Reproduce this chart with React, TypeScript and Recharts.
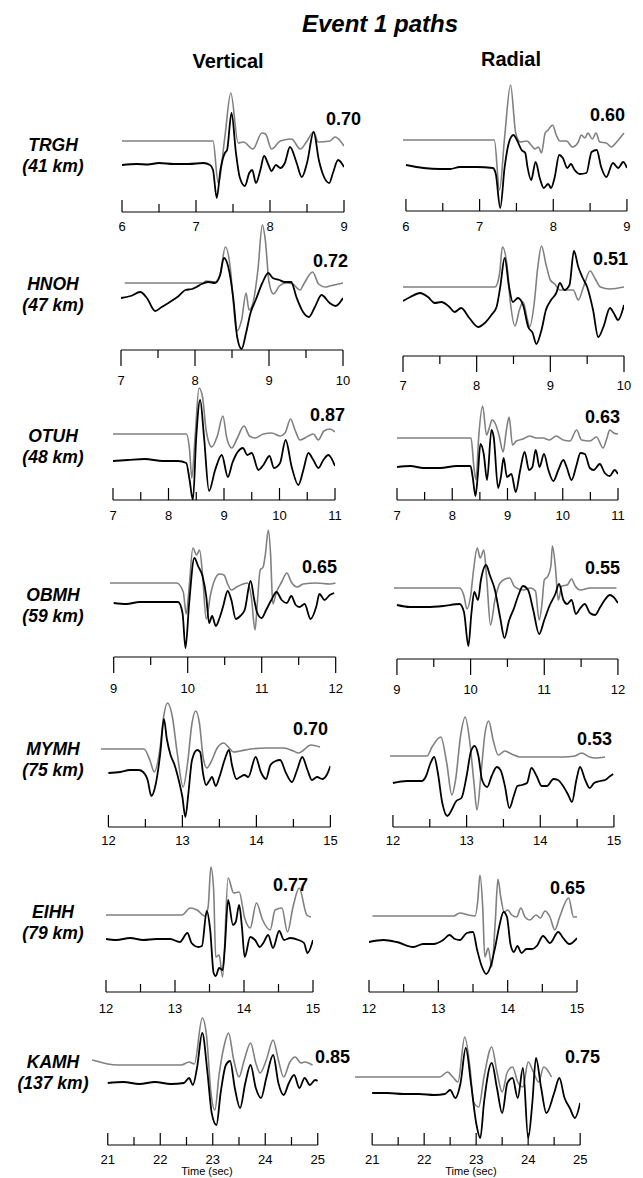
import React from 'react';
import { LineChart, Line, XAxis, YAxis, ReferenceLine } from 'recharts';

type Pt = [number, number];

// ---------- labels ----------
const TITLE = 'Event 1 paths';
const COMPONENTS = ['Vertical', 'Radial'];
const STATIONS = ['TRGH', 'HNOH', 'OTUH', 'OBMH', 'MYMH', 'EIHH', 'KAMH'];
const DISTANCES = ['(41 km)', '(47 km)', '(48 km)', '(59 km)', '(75 km)', '(79 km)', '(137 km)'];
const CC_VERTICAL = ['0.70', '0.72', '0.87', '0.65', '0.70', '0.77', '0.85'];
const CC_RADIAL = ['0.60', '0.51', '0.63', '0.55', '0.53', '0.65', '0.75'];
const X_LABEL = 'Time (sec)';

// ---------- time axes ----------
const TIME_RANGES: [number, number][] = [[6, 9], [7, 10], [7, 11], [9, 12], [12, 15], [12, 15], [21, 25]];
const TICKS: number[][] = [
  [6, 6.5, 7, 7.5, 8, 8.5, 9],
  [7, 7.5, 8, 8.5, 9, 9.5, 10],
  [7, 7.5, 8, 8.5, 9, 9.5, 10, 10.5, 11],
  [9, 9.5, 10, 10.5, 11, 11.5, 12],
  [12, 12.5, 13, 13.5, 14, 14.5, 15],
  [12, 12.5, 13, 13.5, 14, 14.5, 15],
  [21, 21.5, 22, 22.5, 23, 23.5, 24, 24.5, 25],
];

// ---------- waveforms: [time (s), amplitude] ; SYN = gray, OBS = black ----------
const TRGH_V_SYN: Pt[] = [[6,0],[7.23,0],[7.3,-42],[7.39,4],[7.47,48],[7.57,-2],[7.64,-1],[7.77,-8],[7.89,8],[7.94,7],[8.02,-8],[8.14,0],[8.29,2],[8.41,-8],[8.5,0],[8.59,9],[8.65,-1],[8.81,0],[8.88,4],[9.0,-5]];
const TRGH_V_OBS: Pt[] = [[6,0],[6.2,1],[6.35,0.5],[6.5,2],[6.7,1],[6.9,1],[7.1,2],[7.19,0],[7.23,-5],[7.28,-33],[7.33,-5],[7.39,12],[7.42,15],[7.48,52],[7.54,12],[7.59,-12],[7.66,-21],[7.72,-8],[7.76,-5],[7.81,-18],[7.87,-5],[7.92,9],[7.98,0],[8.02,-6],[8.08,0],[8.14,-3],[8.2,2],[8.27,18],[8.36,2],[8.43,-12],[8.5,2],[8.59,33],[8.66,5],[8.73,-12],[8.8,-18],[8.85,-8],[8.92,5],[9.0,-2]];
const TRGH_R_SYN: Pt[] = [[5.96,0],[7.2,0],[7.27,-50],[7.34,3],[7.42,55],[7.49,7],[7.55,-2],[7.64,-1],[7.71,-6],[7.75,-9],[7.8,-7],[7.84,-13],[7.89,7],[7.93,10],[7.99,15],[8.04,5],[8.09,-1],[8.18,-1],[8.26,-7],[8.34,-2],[8.38,5],[8.43,2],[8.47,7],[8.53,1],[8.58,7],[8.63,-2],[8.72,-3],[8.79,-7],[8.86,-2],[8.96,7]];
const TRGH_R_OBS: Pt[] = [[6,1],[6.24,-2],[6.46,-3],[6.6,-3],[6.73,-1],[6.96,-1],[7.18,-2],[7.22,-8],[7.28,-42],[7.34,-1],[7.4,24],[7.46,31],[7.5,27],[7.57,16],[7.62,13],[7.65,-1],[7.7,-14],[7.76,4],[7.82,-13],[7.87,-22],[7.93,-18],[7.97,-22],[8.02,-11],[8.08,11],[8.13,8],[8.19,-2],[8.24,2],[8.29,-4],[8.36,-8],[8.45,-7],[8.52,14],[8.59,16],[8.65,-1],[8.72,-11],[8.81,3],[8.88,-2],[8.95,4],[9.0,-2]];

const HNOH_V_SYN: Pt[] = [[7.05,0],[8.11,0],[8.15,2],[8.27,1],[8.34,9],[8.41,36],[8.48,13],[8.52,-21],[8.56,-48],[8.63,-37],[8.69,-10],[8.73,-27],[8.78,-21],[8.85,13],[8.91,58],[8.95,43],[9.0,1],[9.06,-11],[9.14,-3],[9.23,0],[9.32,-1],[9.42,-7],[9.47,-1],[9.59,11],[9.67,-1],[9.76,-4],[9.82,-3],[10.0,0]];
const HNOH_V_OBS: Pt[] = [[7.0,2],[7.13,4],[7.26,8],[7.35,2],[7.46,-11],[7.55,-7],[7.66,-2],[7.78,4],[7.87,10],[7.96,11],[8.02,13],[8.09,16],[8.18,18],[8.27,17],[8.34,25],[8.39,42],[8.45,33],[8.52,0],[8.57,-37],[8.63,-49],[8.69,-33],[8.75,-13],[8.82,0],[8.91,17],[8.99,27],[9.05,22],[9.14,20],[9.21,18],[9.3,18],[9.37,3],[9.46,-12],[9.54,-17],[9.62,-7],[9.71,5],[9.82,-3],[9.9,-6],[10.0,2]];
const HNOH_R_SYN: Pt[] = [[7.0,0],[8.25,0],[8.31,13],[8.35,40],[8.41,23],[8.46,-17],[8.52,-39],[8.58,-23],[8.63,-15],[8.69,-33],[8.72,-40],[8.78,-17],[8.83,20],[8.88,41],[8.94,23],[9.0,7],[9.06,3],[9.13,-3],[9.22,-3],[9.31,-3],[9.38,-13],[9.45,0],[9.54,16],[9.61,8],[9.68,0],[9.81,-2],[10.0,0]];
const HNOH_R_OBS: Pt[] = [[7.0,-1],[7.1,3],[7.23,7],[7.34,3],[7.43,-3],[7.52,-2],[7.63,-7],[7.7,-12],[7.79,-8],[7.9,-18],[8.02,-27],[8.11,-23],[8.2,-15],[8.27,-7],[8.32,13],[8.38,42],[8.44,13],[8.49,-2],[8.56,2],[8.63,-5],[8.7,-27],[8.76,-33],[8.81,-44],[8.88,-30],[8.94,-10],[9.01,0],[9.08,7],[9.13,17],[9.19,10],[9.26,15],[9.32,49],[9.38,33],[9.44,22],[9.5,13],[9.58,-10],[9.65,-37],[9.72,-27],[9.81,-8],[9.86,-13],[9.92,-20],[10.0,-5]];

const OTUH_V_SYN: Pt[] = [[7.0,0],[8.32,0],[8.38,-16],[8.42,-44],[8.48,-2],[8.55,46],[8.61,38],[8.68,3],[8.78,-13],[8.88,-2],[8.98,18],[9.05,-4],[9.14,-14],[9.24,-4],[9.36,8],[9.46,-2],[9.56,-4],[9.71,0],[9.86,1],[10.01,-2],[10.1,1],[10.2,15],[10.28,4],[10.37,-6],[10.52,-2],[10.61,0],[10.7,-6],[10.8,3],[10.91,5],[11.0,2]];
const OTUH_V_OBS: Pt[] = [[7.0,0],[7.27,1],[7.57,2],[7.9,0],[8.17,0],[8.32,-2],[8.38,-19],[8.44,-39],[8.5,24],[8.57,61],[8.64,24],[8.73,-30],[8.84,-9],[8.96,6],[9.07,-16],[9.15,-2],[9.34,13],[9.42,6],[9.5,8],[9.62,-9],[9.71,-4],[9.82,5],[9.9,-7],[10.01,-2],[10.11,21],[10.22,-6],[10.34,-24],[10.43,-9],[10.52,8],[10.61,1],[10.7,-7],[10.79,1],[10.88,6],[11.0,-5]];
const OTUH_R_SYN: Pt[] = [[7.0,0],[8.34,0],[8.39,-28],[8.43,-42],[8.48,2],[8.55,32],[8.62,3],[8.67,10],[8.72,18],[8.79,13],[8.85,2],[8.92,-14],[8.98,8],[9.03,21],[9.09,-7],[9.16,-3],[9.28,-1],[9.4,2],[9.52,0],[9.64,0],[9.76,-2],[9.88,2],[10.01,-2],[10.13,-3],[10.25,8],[10.34,-2],[10.49,-3],[10.61,1],[10.73,-10],[10.8,0],[10.85,8],[10.92,5],[11.0,4]];
const OTUH_R_OBS: Pt[] = [[7.0,0],[7.24,1],[7.48,-1],[7.78,-1],[8.08,1],[8.33,1],[8.37,-10],[8.42,-29],[8.46,-10],[8.51,23],[8.57,13],[8.63,-13],[8.71,37],[8.75,30],[8.83,-21],[8.88,-10],[8.93,9],[8.99,-10],[9.07,-7],[9.15,-25],[9.23,-3],[9.31,15],[9.39,-3],[9.45,0],[9.51,17],[9.58,0],[9.66,13],[9.74,-3],[9.83,-14],[9.92,-3],[10.01,7],[10.07,0],[10.16,-13],[10.25,2],[10.32,14],[10.4,13],[10.49,-1],[10.56,-3],[10.67,3],[10.76,-6],[10.85,-9],[10.94,-3],[11.0,-7]];

const OBMH_V_SYN: Pt[] = [[8.95,0],[9.85,0],[9.94,-9],[9.98,-31],[10.02,-4],[10.07,35],[10.12,28],[10.16,33],[10.2,9],[10.25,-36],[10.31,-11],[10.37,4],[10.43,9],[10.49,8],[10.54,-1],[10.59,-7],[10.66,-4],[10.75,-1],[10.81,0],[10.86,-14],[10.91,-47],[10.94,-21],[10.98,13],[11.02,16],[11.05,29],[11.09,53],[11.12,29],[11.15,-21],[11.2,-9],[11.27,1],[11.34,10],[11.4,1],[11.48,-4],[11.56,-1],[11.74,0],[11.92,-1],[12.0,0]];
const OBMH_V_OBS: Pt[] = [[9.0,0],[9.17,-1],[9.35,1],[9.53,1],[9.71,1],[9.87,1],[9.93,-10],[9.97,-45],[10.02,0],[10.09,45],[10.14,37],[10.2,27],[10.25,7],[10.29,-20],[10.33,-13],[10.38,-23],[10.43,-15],[10.48,-3],[10.54,12],[10.59,3],[10.65,-16],[10.71,-13],[10.77,-7],[10.85,22],[10.9,3],[10.94,-10],[11.0,-15],[11.06,-7],[11.13,3],[11.2,11],[11.27,3],[11.34,0],[11.4,7],[11.46,-2],[11.51,-4],[11.58,-1],[11.66,-16],[11.74,-3],[11.78,9],[11.85,3],[11.92,8],[11.98,10]];
const OBMH_R_SYN: Pt[] = [[8.96,0],[9.85,0],[9.91,-8],[9.95,-21],[10.0,-8],[10.04,18],[10.09,40],[10.13,30],[10.18,38],[10.22,8],[10.27,-37],[10.33,-12],[10.4,5],[10.47,9],[10.53,10],[10.59,2],[10.65,-1],[10.72,-2],[10.81,0],[10.88,-3],[10.93,-32],[10.97,-15],[11.0,8],[11.05,12],[11.09,22],[11.11,42],[11.15,22],[11.19,-12],[11.24,2],[11.31,3],[11.37,9],[11.42,2],[11.49,-2],[11.62,0],[11.8,0],[11.98,0]];
const OBMH_R_OBS: Pt[] = [[9.0,1],[9.18,-1],[9.41,-1],[9.63,0],[9.85,2],[9.91,-6],[9.97,-40],[10.01,-8],[10.05,14],[10.1,6],[10.14,26],[10.21,41],[10.26,31],[10.33,16],[10.4,-11],[10.46,-32],[10.52,-15],[10.59,-2],[10.65,11],[10.71,20],[10.78,16],[10.85,-4],[10.93,-28],[11.0,-14],[11.07,0],[11.15,12],[11.2,22],[11.26,6],[11.31,2],[11.37,6],[11.43,-8],[11.49,-2],[11.55,2],[11.62,-7],[11.69,-9],[11.76,-1],[11.82,6],[11.89,11],[11.94,9],[12.0,3]];

const MYMH_V_SYN: Pt[] = [[11.9,0],[12.48,0],[12.56,-11],[12.62,-23],[12.7,2],[12.75,34],[12.8,46],[12.86,34],[12.93,-4],[13.01,-38],[13.07,-14],[13.13,26],[13.18,38],[13.23,26],[13.28,-8],[13.33,-19],[13.4,-11],[13.47,1],[13.56,6],[13.62,2],[13.69,-3],[13.78,-2],[13.92,0],[14.14,1],[14.37,1],[14.5,-2],[14.57,-4],[14.64,-1],[14.73,4],[14.86,2]];
const MYMH_V_OBS: Pt[] = [[12.0,0],[12.16,1],[12.29,3],[12.41,3],[12.47,1],[12.53,-7],[12.58,-23],[12.64,-11],[12.7,19],[12.75,54],[12.79,34],[12.84,18],[12.89,9],[12.95,-7],[13.0,-24],[13.04,-44],[13.08,-21],[13.13,13],[13.2,23],[13.24,21],[13.28,-1],[13.32,-12],[13.37,-7],[13.4,-4],[13.45,-13],[13.5,-4],[13.57,13],[13.63,23],[13.67,8],[13.73,-6],[13.78,-4],[13.84,-2],[13.89,-4],[13.99,16],[14.06,1],[14.13,-6],[14.19,8],[14.26,12],[14.32,13],[14.4,0],[14.48,-9],[14.55,3],[14.62,16],[14.69,3],[14.75,-7],[14.82,-4],[14.89,-6],[14.95,-2],[15.0,7]];
const MYMH_R_SYN: Pt[] = [[11.96,0],[12.46,0],[12.53,9],[12.65,19],[12.73,-7],[12.8,-39],[12.85,-24],[12.92,21],[12.98,39],[13.04,16],[13.1,-27],[13.14,-54],[13.2,-14],[13.25,23],[13.3,35],[13.36,16],[13.43,1],[13.52,5],[13.61,2],[13.72,-1],[13.99,-1],[14.31,-1],[14.47,0],[14.56,3],[14.67,-1],[14.74,-2],[14.88,-1]];
const MYMH_R_OBS: Pt[] = [[12.0,0],[12.19,2],[12.39,2],[12.45,7],[12.51,20],[12.56,26],[12.61,10],[12.67,-20],[12.74,-33],[12.79,-28],[12.86,-18],[12.93,-15],[13.0,7],[13.06,32],[13.11,37],[13.16,27],[13.21,3],[13.28,-4],[13.34,7],[13.41,16],[13.46,13],[13.52,-3],[13.58,-25],[13.64,-13],[13.69,-3],[13.75,-2],[13.82,0],[13.88,15],[13.95,7],[14.02,-3],[14.09,-3],[14.18,4],[14.24,3],[14.31,-3],[14.38,-12],[14.43,-19],[14.49,3],[14.54,16],[14.61,3],[14.67,-5],[14.73,0],[14.81,2],[14.88,3],[14.95,7],[14.99,9]];

const EIHH_V_SYN: Pt[] = [[12.0,0],[13.1,0],[13.22,7],[13.32,5],[13.43,-1],[13.48,8],[13.52,48],[13.56,25],[13.59,-42],[13.64,-40],[13.69,-62],[13.77,37],[13.85,22],[13.93,23],[14.01,-3],[14.09,-13],[14.18,12],[14.27,-5],[14.38,-15],[14.45,5],[14.55,7],[14.63,-17],[14.71,8],[14.8,27],[14.91,0],[14.97,-2]];
const EIHH_V_OBS: Pt[] = [[12.0,0],[12.15,-1],[12.35,1],[12.54,-1],[12.73,0],[12.93,0],[13.07,-3],[13.18,6],[13.24,-4],[13.34,-8],[13.39,-7],[13.46,28],[13.51,9],[13.56,-34],[13.59,-37],[13.64,-29],[13.69,-31],[13.72,-11],[13.77,39],[13.84,14],[13.88,17],[13.93,34],[13.97,12],[14.01,-18],[14.09,2],[14.16,-1],[14.23,-8],[14.28,-4],[14.35,4],[14.42,-9],[14.51,8],[14.58,-1],[14.67,1],[14.79,-1],[14.87,-4],[14.92,-14],[15.0,-1]];
const EIHH_R_SYN: Pt[] = [[12.05,0],[13.22,0],[13.31,3],[13.43,1],[13.53,0],[13.57,16],[13.6,41],[13.64,9],[13.67,-41],[13.72,-32],[13.77,-51],[13.82,-7],[13.86,37],[13.9,19],[13.95,4],[14.0,6],[14.06,1],[14.13,-1],[14.19,8],[14.25,-1],[14.32,-4],[14.41,1],[14.47,-2],[14.54,5],[14.61,-1],[14.68,-14],[14.75,-1],[14.88,18],[14.95,-1],[15.0,-1]];
const EIHH_R_OBS: Pt[] = [[12.0,-1],[12.21,1],[12.4,-1],[12.64,-6],[12.78,-3],[12.93,-3],[13.07,1],[13.16,6],[13.24,2],[13.31,1],[13.41,8],[13.5,9],[13.56,-9],[13.63,-26],[13.69,-33],[13.75,-26],[13.82,-6],[13.88,15],[13.94,29],[13.99,24],[14.04,-3],[14.09,-11],[14.14,-5],[14.2,-12],[14.27,-8],[14.35,-8],[14.42,-5],[14.51,5],[14.61,-2],[14.73,9],[14.8,3],[14.89,-3],[15.0,3]];

const KAMH_V_SYN: Pt[] = [[20.7,5],[20.85,3],[21.0,1],[21.2,0],[22.4,0],[22.55,3],[22.65,1],[22.8,47],[22.88,30],[22.97,-30],[23.04,-45],[23.12,-10],[23.22,20],[23.3,32],[23.4,5],[23.5,-12],[23.6,5],[23.72,22],[23.82,2],[23.9,-8],[24.02,5],[24.15,25],[24.25,5],[24.35,-12],[24.47,3],[24.57,8],[24.68,2],[24.75,3],[24.9,0]];
const KAMH_V_OBS: Pt[] = [[21.0,0],[21.3,1],[21.6,-1],[21.9,1],[22.2,-1],[22.45,0],[22.55,5],[22.62,-2],[22.7,15],[22.8,50],[22.9,10],[22.98,-30],[23.07,-42],[23.15,-10],[23.25,18],[23.33,22],[23.42,-5],[23.52,-25],[23.62,0],[23.72,18],[23.82,-5],[23.92,-15],[24.02,5],[24.15,28],[24.25,0],[24.35,-12],[24.45,0],[24.55,8],[24.65,-5],[24.75,5],[24.85,-2],[24.95,3],[25.0,2]];
const KAMH_R_SYN: Pt[] = [[20.67,0],[22.3,0],[22.45,5],[22.55,0],[22.65,-5],[22.78,40],[22.88,10],[22.95,-25],[23.05,-30],[23.15,0],[23.3,30],[23.4,5],[23.5,-15],[23.6,5],[23.7,10],[23.8,-5],[23.9,-10],[24.0,15],[24.1,5],[24.2,-5],[24.3,10],[24.45,0]];
const KAMH_R_OBS: Pt[] = [[21.0,0],[21.3,0],[21.6,-1],[21.9,-1],[22.2,-2],[22.4,-1],[22.5,3],[22.6,-5],[22.7,10],[22.8,45],[22.9,10],[23.0,-30],[23.08,-45],[23.15,-10],[23.3,30],[23.4,5],[23.5,-20],[23.6,10],[23.7,15],[23.8,-5],[23.9,25],[24.0,-45],[24.08,-10],[24.15,35],[24.25,5],[24.35,-20],[24.5,0],[24.6,15],[24.7,-5],[24.8,-15],[24.9,-25],[25.0,-10]];

const SYN_V = [TRGH_V_SYN, HNOH_V_SYN, OTUH_V_SYN, OBMH_V_SYN, MYMH_V_SYN, EIHH_V_SYN, KAMH_V_SYN];
const OBS_V = [TRGH_V_OBS, HNOH_V_OBS, OTUH_V_OBS, OBMH_V_OBS, MYMH_V_OBS, EIHH_V_OBS, KAMH_V_OBS];
const SYN_R = [TRGH_R_SYN, HNOH_R_SYN, OTUH_R_SYN, OBMH_R_SYN, MYMH_R_SYN, EIHH_R_SYN, KAMH_R_SYN];
const OBS_R = [TRGH_R_OBS, HNOH_R_OBS, OTUH_R_OBS, OBMH_R_OBS, MYMH_R_OBS, EIHH_R_OBS, KAMH_R_OBS];

// ---------- layout (page pixels) ----------
type Layout = { xL: number; xR: number; axisY: number; dir: 'up' | 'down'; labelDy: number; grayBase: number; blackBase: number; ccX: number; ccY: number; lead: number };
const LAYOUT_V: Layout[] = [
  { xL: 122, xR: 344, axisY: 212, dir: 'up', labelDy: 19, grayBase: 141, blackBase: 165, ccX: 326, ccY: 125, lead: 0 },
  { xL: 121, xR: 343, axisY: 350, dir: 'down', labelDy: 35, grayBase: 283, blackBase: 300, ccX: 313, ccY: 267, lead: 0 },
  { xL: 113, xR: 335, axisY: 500, dir: 'up', labelDy: 20, grayBase: 434, blackBase: 461, ccX: 310, ccY: 421, lead: 0 },
  { xL: 114, xR: 336, axisY: 657, dir: 'down', labelDy: 36, grayBase: 583, blackBase: 603, ccX: 302, ccY: 573, lead: 0.05 },
  { xL: 108, xR: 330, axisY: 827, dir: 'up', labelDy: 18, grayBase: 749, blackBase: 773, ccX: 293, ccY: 735, lead: 0.1 },
  { xL: 106, xR: 313, axisY: 992, dir: 'up', labelDy: 21, grayBase: 915, blackBase: 939, ccX: 273, ccY: 891, lead: 0 },
  { xL: 108, xR: 318, axisY: 1145, dir: 'up', labelDy: 19, grayBase: 1065, blackBase: 1083, ccX: 315, ccY: 1063, lead: 0.3 },
];
const LAYOUT_R: Layout[] = [
  { xL: 406, xR: 627, axisY: 211, dir: 'up', labelDy: 20, grayBase: 140, blackBase: 166, ccX: 590, ccY: 121, lead: 0.04 },
  { xL: 403, xR: 624, axisY: 356, dir: 'down', labelDy: 34, grayBase: 287, blackBase: 300, ccX: 593, ccY: 265, lead: 0 },
  { xL: 397, xR: 618, axisY: 500, dir: 'up', labelDy: 20, grayBase: 438, blackBase: 467, ccX: 585, ccY: 423, lead: 0 },
  { xL: 397, xR: 618, axisY: 659, dir: 'down', labelDy: 35, grayBase: 588, blackBase: 606, ccX: 585, ccY: 574, lead: 0.04 },
  { xL: 393, xR: 614, axisY: 827, dir: 'up', labelDy: 18, grayBase: 756, blackBase: 783, ccX: 577, ccY: 745, lead: 0.04 },
  { xL: 369, xR: 577, axisY: 992, dir: 'up', labelDy: 21, grayBase: 916, blackBase: 941, ccX: 550, ccY: 894, lead: 0 },
  { xL: 372, xR: 580, axisY: 1145, dir: 'up', labelDy: 19, grayBase: 1077, blackBase: 1093, ccX: 565, ccY: 1063, lead: 0.33 },
];
const STATION_Y = [151, 290, 442, 601, 755, 918, 1068];

const FONT = '"Liberation Sans", Arial, Helvetica, sans-serif';
const GRAY = '#808080';
const PLOT_H = 150;
const AXIS_H = 50;
const M_L = 16;
const M_R = 16;

function AxisTick(props: any) {
  const { x, y, payload, dir, labelDy } = props;
  const v = payload.value as number;
  const major = Math.abs(v - Math.round(v)) < 1e-6;
  const len = major ? (dir === 'up' ? 12 : 16) : 8;
  const y2 = dir === 'up' ? y - len : y + len;
  return (
    <g>
      <line x1={x} x2={x} y1={y} y2={y2} stroke="#000" strokeWidth={1.2} />
      {major && (
        <text x={x} y={y + labelDy} textAnchor="middle" fontSize={13} fontFamily={FONT} fill="#000">
          {v}
        </text>
      )}
    </g>
  );
}

function Panel({ lay, syn, obs, range, ticks }: { lay: Layout; syn: Pt[]; obs: Pt[]; range: [number, number]; ticks: number[] }) {
  const pxPerSec = (lay.xR - lay.xL) / (range[1] - range[0]);
  const leadPx = lay.lead * pxPerSec;
  const width = lay.xR - lay.xL + leadPx + M_L + M_R;
  const synData = syn.map(([t, a]) => ({ t, v: a + (lay.axisY - lay.grayBase) }));
  const obsData = obs.map(([t, a]) => ({ t, v: a + (lay.axisY - lay.blackBase) }));
  return (
    <div style={{ position: 'absolute', left: lay.xL - leadPx - M_L, top: lay.axisY - PLOT_H }}>
      <LineChart width={width} height={PLOT_H + AXIS_H} margin={{ top: 0, right: M_R, left: M_L, bottom: 0 }}>
        <XAxis
          type="number"
          dataKey="t"
          domain={[range[0] - lay.lead, range[1]]}
          ticks={ticks}
          interval={0}
          allowDataOverflow
          height={AXIS_H}
          tickSize={0}
          tickMargin={0}
          tickLine={false}
          axisLine={false}
          tick={(p: any) => <AxisTick {...p} dir={lay.dir} labelDy={lay.labelDy} />}
        />
        <YAxis hide type="number" domain={[0, PLOT_H]} allowDataOverflow />
        <ReferenceLine segment={[{ x: range[0], y: 0 }, { x: range[1], y: 0 }]} stroke="#000" strokeWidth={1.2} ifOverflow="visible" />
        <Line data={synData} dataKey="v" type="monotone" stroke={GRAY} strokeWidth={1.6} dot={false} isAnimationActive={false} />
        <Line data={obsData} dataKey="v" type="monotone" stroke="#000" strokeWidth={1.8} dot={false} isAnimationActive={false} />
      </LineChart>
    </div>
  );
}

export default function App() {
  return (
    <div style={{ position: 'absolute', left: 0, top: 0, width: 643, height: 1178, background: '#fff', overflow: 'hidden' }}>
      {STATIONS.map((s, i) => (
        <React.Fragment key={s}>
          <Panel lay={LAYOUT_V[i]} syn={SYN_V[i]} obs={OBS_V[i]} range={TIME_RANGES[i]} ticks={TICKS[i]} />
          <Panel lay={LAYOUT_R[i]} syn={SYN_R[i]} obs={OBS_R[i]} range={TIME_RANGES[i]} ticks={TICKS[i]} />
        </React.Fragment>
      ))}
      <svg width={643} height={1178} style={{ position: 'absolute', left: 0, top: 0, pointerEvents: 'none' }}>
        <text x={380} y={32} textAnchor="middle" fontFamily={FONT} fontSize={24} fontWeight="bold" fontStyle="italic">{TITLE}</text>
        <text x={228} y={68} textAnchor="middle" fontFamily={FONT} fontSize={20} fontWeight="bold">{COMPONENTS[0]}</text>
        <text x={511} y={66} textAnchor="middle" fontFamily={FONT} fontSize={20} fontWeight="bold">{COMPONENTS[1]}</text>
        {STATIONS.map((s, i) => (
          <g key={s}>
            <text x={53} y={STATION_Y[i]} textAnchor="middle" fontFamily={FONT} fontSize={17.5} fontWeight="bold" fontStyle="italic">{s}</text>
            <text x={53} y={STATION_Y[i] + 21} textAnchor="middle" fontFamily={FONT} fontSize={17.5} fontWeight="bold" fontStyle="italic">{DISTANCES[i]}</text>
            <text x={LAYOUT_V[i].ccX} y={LAYOUT_V[i].ccY} fontFamily={FONT} fontSize={18} fontWeight="bold">{CC_VERTICAL[i]}</text>
            <text x={LAYOUT_R[i].ccX} y={LAYOUT_R[i].ccY} fontFamily={FONT} fontSize={18} fontWeight="bold">{CC_RADIAL[i]}</text>
          </g>
        ))}
        <text x={207} y={1175} textAnchor="middle" fontFamily={FONT} fontSize={11}>{X_LABEL}</text>
        <text x={471} y={1175} textAnchor="middle" fontFamily={FONT} fontSize={11}>{X_LABEL}</text>
      </svg>
    </div>
  );
}
